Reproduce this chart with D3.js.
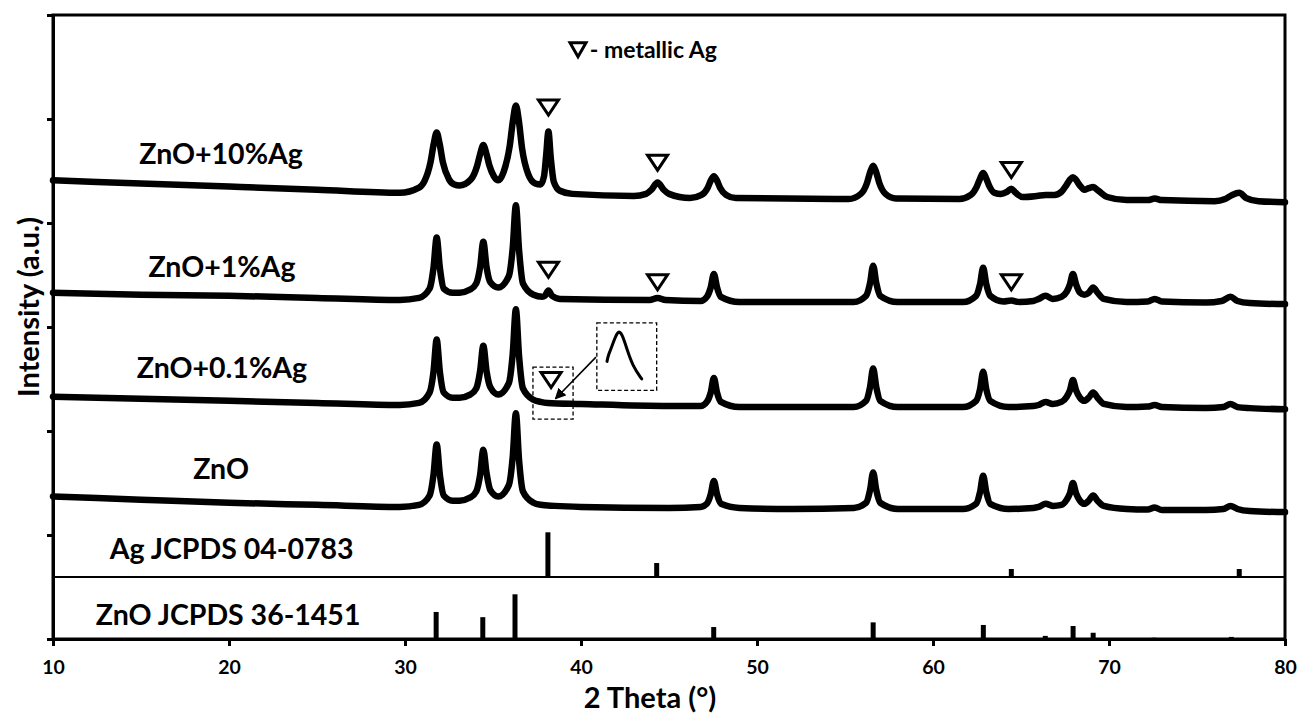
<!DOCTYPE html>
<html lang="en">
<head>
<meta charset="UTF-8">
<title>XRD - ZnO / Ag</title>
<script src="https://d3js.org/d3.v7.min.js"></script>
<style>
    body{ margin:0; background:#fff; }
    svg text{ font-family: Lato, "Open Sans", sans-serif; font-weight:bold; fill:#000; }
    .axis path, .axis line{ stroke:#000; stroke-width:3px; }
    .axis text{ font-size:19.5px; font-weight:bold; }
    .pattern{ fill:none; stroke:#000; stroke-width:6.5px; stroke-linejoin:round; stroke-linecap:round; }
    .stick{ stroke:#000; stroke-width:5px; }
    .marker{ fill:#fff; stroke:#000; stroke-width:3px; stroke-linejoin:miter; }
    .dashbox{ fill:none; stroke:#000; stroke-width:1.3px; stroke-dasharray:4,2.5; }
    .label{ font-size:28.5px; }
</style>
</head>
<body>
<svg id="chart" width="1299" height="717"></svg>
<script>
    // x ticks (2 theta, degrees)
    let xTicks = [10, 20, 30, 40, 50, 60, 70, 80]
    let yTicks = [0, 1, 2, 3, 4, 5, 6]

    // measured patterns, [2theta, intensity a.u. incl. offset]
    let zno = [[10,1.37],[15,1.34],[20,1.31],[25,1.29],[29.7,1.27],[30.8,1.29],
        [31.4,1.38],[31.62,1.58],[31.8,1.87],[31.98,1.58],[32.2,1.38],[32.7,1.33],[33.1,1.33],[33.7,1.36],
        [34.05,1.42],[34.27,1.58],[34.45,1.82],[34.63,1.60],[34.85,1.43],[35.3,1.37],
        [35.9,1.48],[36.12,1.75],[36.3,2.17],[36.48,1.72],[36.7,1.42],[37.3,1.31],[37.7,1.29],[38.5,1.28],
        [40,1.27],[45,1.26],[46.8,1.27],
        [47.15,1.30],[47.37,1.39],[47.55,1.52],[47.73,1.39],[47.95,1.30],[49,1.26],[52,1.25],[55.5,1.26],
        [56.2,1.31],[56.42,1.43],[56.6,1.60],[56.78,1.43],[57.0,1.31],[58,1.25],[61.7,1.25],
        [62.45,1.30],[62.67,1.41],[62.85,1.57],[63.03,1.41],[63.25,1.30],[64.3,1.25],[65.7,1.26],
        [66.0,1.27],[66.4,1.30],[66.8,1.28],[67.3,1.29],
        [67.6,1.34],[67.78,1.40],[67.95,1.50],[68.13,1.40],[68.35,1.33],[68.6,1.30],
        [68.85,1.33],[69.1,1.38],[69.35,1.33],[69.7,1.28],[71,1.25],
        [72.2,1.245],[72.6,1.265],[73.0,1.24],[75.5,1.24],[76.5,1.25],[76.9,1.28],[77.3,1.25],[78,1.23],[80,1.22]]

    let zno01 = [[10,2.33],[15,2.31],[20,2.29],[25,2.27],[29.7,2.25],[30.8,2.27],
        [31.4,2.37],[31.62,2.57],[31.8,2.88],[31.98,2.57],[32.2,2.37],[32.7,2.32],[33.1,2.32],[33.7,2.35],
        [34.05,2.41],[34.27,2.58],[34.45,2.82],[34.63,2.58],[34.85,2.42],[35.3,2.35],
        [35.9,2.46],[36.12,2.74],[36.3,3.17],[36.48,2.72],[36.7,2.41],[37.3,2.30],[37.7,2.28],[38.1,2.27],
        [40,2.26],[45,2.24],[46.8,2.24],
        [47.15,2.28],[47.37,2.37],[47.55,2.51],[47.73,2.37],[47.95,2.28],[49,2.23],[55.5,2.23],
        [56.2,2.29],[56.42,2.42],[56.6,2.60],[56.78,2.42],[57.0,2.29],[58,2.23],[61.7,2.23],
        [62.45,2.29],[62.67,2.40],[62.85,2.57],[63.03,2.40],[63.25,2.29],[64.3,2.23],[65.7,2.24],
        [66.0,2.25],[66.4,2.28],[66.8,2.26],[67.3,2.28],
        [67.6,2.33],[67.78,2.39],[67.95,2.49],[68.13,2.39],[68.35,2.32],[68.6,2.29],
        [68.85,2.32],[69.1,2.37],[69.35,2.32],[69.7,2.26],[71,2.23],
        [72.2,2.235],[72.6,2.25],[73.0,2.23],[75.5,2.22],[76.5,2.23],[76.9,2.26],[77.3,2.23],[78,2.22],[80,2.21]]

    let zno1 = [[10,3.33],[15,3.31],[20,3.30],[25,3.28],[29.7,3.26],[30.8,3.28],
        [31.4,3.37],[31.62,3.57],[31.8,3.86],[31.98,3.57],[32.2,3.37],[32.7,3.33],[33.1,3.33],[33.7,3.36],
        [34.05,3.42],[34.27,3.58],[34.45,3.82],[34.63,3.58],[34.85,3.43],[35.3,3.38],
        [35.9,3.49],[36.12,3.76],[36.3,4.17],[36.48,3.74],[36.7,3.42],[37.3,3.31],[37.8,3.29],
        [37.95,3.30],[38.15,3.35],[38.35,3.30],[38.8,3.27],[43.9,3.26],[44.35,3.28],[44.8,3.26],[46.8,3.25],
        [47.15,3.29],[47.37,3.38],[47.55,3.51],[47.73,3.38],[47.95,3.29],[49,3.24],[55.5,3.24],
        [56.2,3.30],[56.42,3.42],[56.6,3.59],[56.78,3.42],[57.0,3.30],[58,3.24],[61.7,3.24],
        [62.45,3.30],[62.67,3.41],[62.85,3.57],[63.03,3.41],[63.25,3.30],[64.0,3.245],[64.45,3.255],[64.9,3.24],[65.7,3.25],
        [66.0,3.27],[66.4,3.30],[66.8,3.27],[67.3,3.29],
        [67.6,3.34],[67.78,3.41],[67.95,3.51],[68.13,3.41],[68.35,3.33],[68.6,3.31],
        [68.85,3.33],[69.1,3.38],[69.35,3.33],[69.7,3.27],[71,3.24],
        [72.2,3.245],[72.6,3.27],[73.0,3.245],[75.5,3.235],[76.4,3.25],[76.9,3.29],[77.3,3.25],[78,3.23],[80,3.22]]

    let zno10 = [[10,4.41],[15,4.38],[20,4.35],[25,4.32],[29.7,4.29],[30.8,4.34],
        [31.1,4.40],[31.45,4.585],[31.63,4.76],[31.8,4.87],[31.97,4.76],[32.15,4.585],[32.5,4.42],[32.8,4.37],[33.1,4.36],
        [33.75,4.42],[34.1,4.55],[34.28,4.67],[34.45,4.75],[34.62,4.67],[34.8,4.55],[35.05,4.45],[35.3,4.41],
        [35.6,4.49],[35.95,4.74],[36.13,4.98],[36.3,5.13],[36.47,4.98],[36.65,4.72],[37.0,4.47],[37.4,4.38],[37.7,4.37],
        [37.9,4.45],[38.02,4.65],[38.15,4.88],[38.28,4.63],[38.45,4.40],[38.8,4.31],[39.5,4.28],[43.0,4.26],
        [43.7,4.28],[44.0,4.32],[44.35,4.39],[44.7,4.32],[45.0,4.28],[46.2,4.24],
        [46.85,4.27],[47.2,4.34],[47.38,4.41],[47.55,4.45],[47.72,4.41],[47.9,4.34],[48.25,4.27],[48.8,4.24],[55.2,4.23],
        [55.9,4.28],[56.25,4.385],[56.43,4.49],[56.6,4.55],[56.77,4.49],[56.95,4.385],[57.3,4.28],[57.9,4.235],[61.5,4.23],
        [62.15,4.27],[62.5,4.355],[62.68,4.43],[62.85,4.48],[63.02,4.43],[63.2,4.355],[63.5,4.29],[63.85,4.28],
        [64.2,4.30],[64.45,4.33],[64.7,4.29],[65.1,4.25],[65.9,4.26],[66.4,4.27],[66.9,4.27],
        [67.3,4.30],[67.6,4.37],[67.8,4.42],[67.95,4.44],[68.1,4.42],[68.35,4.36],[68.6,4.32],
        [68.85,4.335],[69.1,4.345],[69.4,4.31],[69.9,4.25],[71,4.22],
        [72.2,4.22],[72.6,4.235],[73.0,4.22],[76,4.21],[76.6,4.23],[77.0,4.27],[77.4,4.29],[77.8,4.24],[78.5,4.21],[80,4.20]]

    // reference cards
    let agRefPos = [38.12, 44.30, 64.45, 77.40]
    let agRefInt = [0.43, 0.135, 0.077, 0.077]
    let znoRefPos = [31.77, 34.42, 36.25, 47.54, 56.60, 62.86, 66.38, 67.96, 69.10, 72.56, 76.95]
    let znoRefInt = [0.26, 0.21, 0.43, 0.115, 0.16, 0.135, 0.03, 0.125, 0.06, 0.012, 0.02]
    let agRefBase = 0.596

    // metallic Ag markers [2theta, intensity]
    let agMarks = [[38.15,5.11],[44.35,4.58],[64.45,4.51],[38.15,3.55],[44.35,3.43],[64.45,3.43],[38.3,2.49]]

    // series labels [text, 2theta, intensity]
    let labels = [["ZnO+10%Ag",19.55,4.57],["ZnO+1%Ag",19.6,3.48],["ZnO+0.1%Ag",19.6,2.51],
        ["ZnO",19.55,1.54],["Ag JCPDS 04-0783",20.15,0.77],["ZnO JCPDS 36-1451",19.95,0.135]]

    // magnified Ag (111) peak for the 0.1% sample, local units
    let insetPts = [[0.17,0.43],[0.19,0.52],[0.24,0.62],[0.35,0.9],[0.42,0.84],[0.5,0.62],[0.6,0.36],[0.75,0.17]]

    let width = 1299, height = 717
    let margin = {left:53, right:14, top:15, bottom:78}
    let svg = d3.select('#chart')

    let x = d3.scaleLinear().domain([10, 80]).range([margin.left, width - margin.right])
    let y = d3.scaleLinear().domain([0, 6]).range([height - margin.bottom, margin.top])

    // frame
    svg.append('rect')
        .attr('x', x(10)).attr('y', y(6))
        .attr('width', x(80) - x(10)).attr('height', y(0) - y(6))
        .attr('fill', 'none').attr('stroke', '#000').attr('stroke-width', 3)

    // divider between the two reference cards
    svg.append('line')
        .attr('x1', x(10)).attr('x2', x(80))
        .attr('y1', y(agRefBase)).attr('y2', y(agRefBase))
        .attr('stroke', '#000').attr('stroke-width', 2)

    svg.append('g').attr('class', 'axis')
        .attr('transform', `translate(0,${y(0)})`)
        .call(d3.axisBottom(x).tickValues(xTicks).tickSize(7).tickPadding(14).tickSizeOuter(0))

    svg.append('g').attr('class', 'axis')
        .attr('transform', `translate(${x(10)},0)`)
        .call(d3.axisLeft(y).tickValues(yTicks).tickSize(6).tickFormat('').tickSizeOuter(0))

    // sticks
    svg.append('g').selectAll('line')
        .data(agRefPos)
        .enter().append('line').attr('class', 'stick')
        .attr('x1', d => x(d)).attr('x2', d => x(d))
        .attr('y1', y(agRefBase)).attr('y2', (d, i) => y(agRefBase + agRefInt[i]))
    svg.append('g').selectAll('line')
        .data(znoRefPos)
        .enter().append('line').attr('class', 'stick')
        .attr('x1', d => x(d)).attr('x2', d => x(d))
        .attr('y1', y(0)).attr('y2', (d, i) => y(znoRefInt[i]))

    // patterns
    let line = d3.line().x(d => x(d[0])).y(d => y(d[1])).curve(d3.curveMonotoneX)
    svg.append('g').selectAll('path')
        .data([zno, zno01, zno1, zno10])
        .enter().append('path').attr('class', 'pattern')
        .attr('d', line)

    // open down triangles
    let tri = 'M-10,-7.5L10,-7.5L0,7.5Z'
    svg.append('g').selectAll('path')
        .data(agMarks)
        .enter().append('path').attr('class', 'marker')
        .attr('d', tri)
        .attr('transform', d => `translate(${x(d[0])},${y(d[1])})`)

    // labels
    svg.append('g').selectAll('text')
        .data(labels)
        .enter().append('text').attr('class', 'label')
        .attr('x', d => x(d[1])).attr('y', d => y(d[2]))
        .attr('text-anchor', 'middle')
        .text(d => d[0])

    // legend
    svg.append('path').attr('class', 'marker')
        .attr('d', 'M-8,-7L8,-7L0,7Z')
        .attr('stroke-width', 3.5)
        .attr('transform', `translate(${x(39.83)},${y(5.665)})`)
    svg.append('text')
        .attr('x', x(40.5)).attr('y', y(5.585))
        .attr('font-size', 23)
        .text('- metallic Ag')

    // zoom boxes
    let box1 = {x0:37.27, x1:39.55, y0:2.115, y1:2.615}
    let box2 = {x0:40.9, x1:44.3, y0:2.39, y1:3.04}
    ;[box1, box2].forEach(b => {
        svg.append('rect').attr('class', 'dashbox')
            .attr('x', x(b.x0)).attr('y', y(b.y1))
            .attr('width', x(b.x1) - x(b.x0)).attr('height', y(b.y0) - y(b.y1))
    })
    let ix = d3.scaleLinear().domain([0, 1]).range([x(box2.x0), x(box2.x1)])
    let iy = d3.scaleLinear().domain([0, 1]).range([y(box2.y0), y(box2.y1)])
    svg.append('path')
        .attr('d', d3.line().x(d => ix(d[0])).y(d => iy(d[1])).curve(d3.curveBasis)(insetPts))
        .attr('fill', 'none').attr('stroke', '#000').attr('stroke-width', 3).attr('stroke-linecap', 'round')

    svg.append('defs').append('marker')
        .attr('id', 'arrow').attr('viewBox', '0 0 10 10')
        .attr('refX', 9).attr('refY', 5)
        .attr('markerWidth', 7).attr('markerHeight', 7)
        .attr('orient', 'auto')
        .append('path').attr('d', 'M0,0L10,5L0,10Z').attr('fill', '#000')
    svg.append('line')
        .attr('x1', x(40.85)).attr('y1', y(2.71))
        .attr('x2', x(38.55)).attr('y2', y(2.31))
        .attr('stroke', '#000').attr('stroke-width', 1.6)
        .attr('marker-end', 'url(#arrow)')

    // axis titles
    svg.append('text')
        .attr('x', 650).attr('y', 708)
        .attr('text-anchor', 'middle').attr('font-size', 29)
        .text('2 Theta (°)')
    svg.append('text')
        .attr('transform', `translate(39,${307}) rotate(-90)`)
        .attr('text-anchor', 'middle').attr('font-size', 29)
        .text('Intensity (a.u.)')
</script>
</body>
</html>
